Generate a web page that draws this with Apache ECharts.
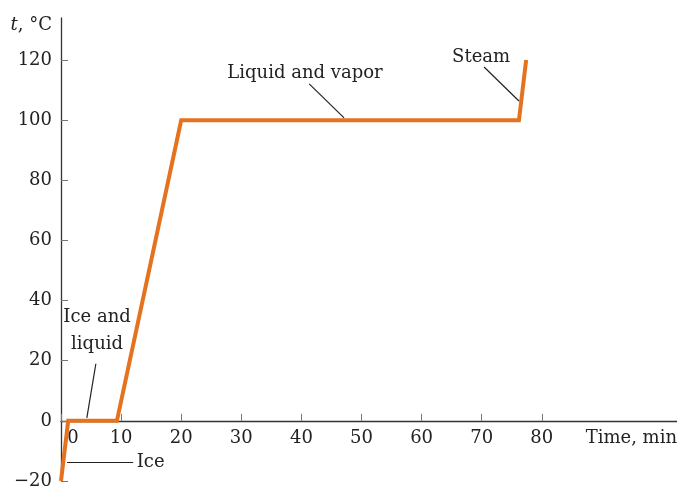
<!DOCTYPE html>
<html>
<head>
<meta charset="utf-8">
<script src="https://cdn.jsdelivr.net/npm/echarts@6/dist/echarts.min.js"></script>
<style>
html,body{margin:0;padding:0;background:#fff;}
#chart{width:677px;height:488px;}
</style>
</head>
<body>
<div id="chart"></div>
<script>
// Heating curve of water
const timeMin = [0, 1.2, 9.3, 20, 76.2, 77.4];
const tempC = [-20, 0, 0, 100, 100, 120];
const xTickValues = [0, 10, 20, 30, 40, 50, 60, 70, 80];
const yTickValues = [-20, 0, 20, 40, 60, 80, 100, 120];

// annotation texts and their anchor points (data coordinates)
const annoTexts = ['Ice and\nliquid', 'Ice', 'Liquid and vapor', 'Steam'];
const annoAnchors = [[6.0, 29.8], [12.6, -13.9], [40.6, 115.6], [69.9, 121.0]];
const leaderStarts = [[5.8, 19.0], [1.0, -13.6], [41.3, 112.1], [70.4, 117.7]];
const leaderEnds = [[4.3, 1.0], [12.0, -13.6], [47.1, 100.8], [76.2, 106.4]];

const FONT = 'DejaVu Serif';
const FS = 18;
const textCol = '#222';
const Y_MIN = -20, Y_MAX = 134;
const GRID_TOP = 18, GRID_BOTTOM = 7, H = 488;

const chart = echarts.init(document.getElementById('chart'), null, {renderer: 'canvas'});

// shift x axis up from grid bottom to the y = 0 level
const plotH = H - GRID_TOP - GRID_BOTTOM;
const zeroOffset = -(0 - Y_MIN) / (Y_MAX - Y_MIN) * plotH;

const markPointData = annoTexts.map((t, i) => ({
  coord: annoAnchors[i],
  symbol: 'circle',
  symbolSize: 0,
  label: {
    show: true,
    formatter: t,
    position: i === 1 ? 'right' : 'inside',
    distance: 0,
    color: textCol,
    fontFamily: FONT,
    fontSize: FS,
    lineHeight: 27,
    align: i === 1 ? 'left' : 'center'
  }
}));

const markLineData = leaderStarts.map((s, i) => [
  {coord: s},
  {coord: leaderEnds[i]}
]);

chart.setOption({
  animation: false,
  backgroundColor: '#fff',
  grid: {left: 61, right: 0, top: GRID_TOP, bottom: GRID_BOTTOM, containLabel: false, outerBoundsMode: 'none'},
  xAxis: {
    type: 'value',
    min: 0,
    max: 102.5,
    offset: zeroOffset,
    name: 'Time, min',
    nameLocation: 'end',
    nameGap: 0,
    nameTextStyle: {
      fontFamily: FONT, fontSize: FS, color: textCol,
      align: 'right', verticalAlign: 'top', padding: [8, 0, 0, 0]
    },
    axisLine: {onZero: false, lineStyle: {color: '#333', width: 1.3}},
    axisTick: {show: true, inside: true, length: 7, customValues: xTickValues, lineStyle: {color: '#777', width: 1}},
    axisLabel: {
      customValues: xTickValues,
      margin: 8,
      fontFamily: FONT, fontSize: FS, color: textCol,
      formatter: v => v === 0 ? '{z|0}' : String(v),
      rich: {z: {fontFamily: FONT, fontSize: FS, color: textCol, padding: [0, 0, 0, 24]}}
    },
    splitLine: {show: false}
  },
  yAxis: {
    type: 'value',
    min: Y_MIN,
    max: Y_MAX,
    name: '{i|t}, °C',
    nameLocation: 'end',
    nameGap: -7,
    nameTextStyle: {
      fontFamily: FONT, fontSize: FS, color: textCol,
      align: 'right', verticalAlign: 'middle', padding: [0, 9, 0, 0],
      rich: {i: {fontFamily: FONT, fontSize: FS, color: textCol, fontStyle: 'italic'}}
    },
    axisLine: {show: true, onZero: false, lineStyle: {color: '#333', width: 1.3}},
    axisTick: {show: true, inside: true, length: 7, customValues: yTickValues, lineStyle: {color: '#777', width: 1}},
    axisLabel: {
      customValues: yTickValues,
      margin: 9,
      fontFamily: FONT, fontSize: FS, color: textCol,
      formatter: v => v < 0 ? '\u2212' + Math.abs(v) : String(v)
    },
    splitLine: {show: false}
  },
  series: [{
    type: 'line',
    data: timeMin.map((t, i) => [t, tempC[i]]),
    symbol: 'none',
    lineStyle: {color: '#E5721F', width: 4, join: 'miter'},
    z: 3,
    markLine: {
      silent: true,
      symbol: 'none',
      label: {show: false},
      lineStyle: {color: '#222', width: 1.2, type: 'solid'},
      data: markLineData
    },
    markPoint: {
      silent: true,
      data: markPointData
    }
  }]
});
</script>
</body>
</html>
